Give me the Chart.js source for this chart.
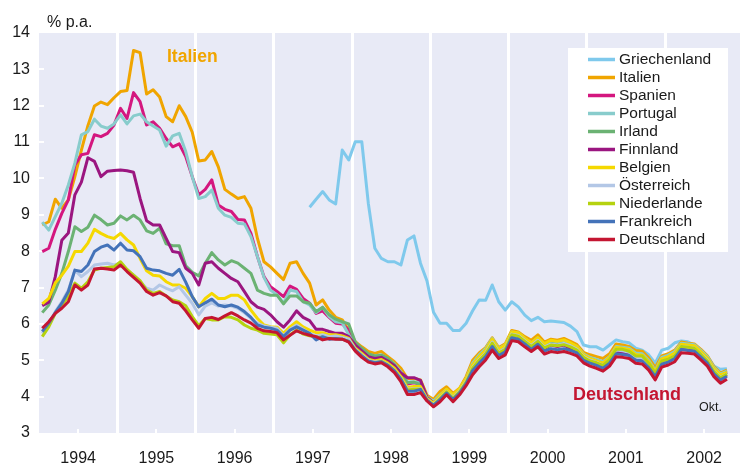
<!DOCTYPE html>
<html>
<head>
<meta charset="utf-8">
<script src="https://cdn.jsdelivr.net/npm/chart.js@4/dist/chart.umd.min.js"></script>
<style>
  html, body { margin: 0; padding: 0; background: #fff; }
</style>
</head>
<body>
<canvas id="yieldChart" width="740" height="466"></canvas>
<script>
// Monthly values, Jan 1994 .. Oct 2002 (106 months), % p.a.
const years = ['1994', '1995', '1996', '1997', '1998', '1999', '2000', '2001', '2002'];
const countries = ['Griechenland', 'Italien', 'Spanien', 'Portugal', 'Irland', 'Finnland',
                   'Belgien', 'Österreich', 'Niederlande', 'Frankreich', 'Deutschland'];
const colors = ['#7fc9ec', '#f0a500', '#d4177f', '#88cccc', '#6bb273', '#9b1680',
                '#f5d800', '#b3c7e6', '#b5d20f', '#4473b9', '#c41632'];

const griechenlandStart = 41; // Jun 1997
const griechenland = [
  9.21, 9.43, 9.64, 9.41, 9.3, 10.78, 10.51, 11.01, 11.01, 9.32,
  8.08, 7.8, 7.71, 7.71, 7.62, 8.31, 8.42, 7.67, 7.18, 6.32,
  6.02, 6.02, 5.82, 5.82, 6.02, 6.36, 6.66, 6.65, 7.07, 6.61,
  6.38, 6.61, 6.47, 6.24, 6.09, 6.18, 6.06, 6.08, 6.06, 6.04,
  5.94, 5.79, 5.42, 5.37, 5.37, 5.28, 5.42, 5.56, 5.51, 5.48,
  5.33, 5.28, 5.15, 4.92, 5.28, 5.33, 5.48, 5.53, 5.51, 5.42,
  5.24, 5.1, 4.84, 4.75, 4.77
];
const italien = [
  8.72, 8.81, 9.43, 9.18, 9.41, 10.05, 10.78, 11.45, 11.99, 12.1,
  12.03, 12.22, 12.39, 12.42, 13.52, 13.46, 12.32, 12.44, 12.24, 11.7,
  11.56, 12.0, 11.7, 11.27, 10.48, 10.51, 10.74, 10.32, 9.7, 9.57,
  9.45, 9.5, 9.18, 8.35, 7.71, 7.57, 7.39, 7.22, 7.67, 7.71,
  7.39, 7.12, 6.52, 6.66, 6.38, 6.18, 6.11, 5.83, 5.51, 5.37,
  5.24, 5.19, 5.24, 5.1, 4.96, 4.78, 4.5, 4.5, 4.46, 4.04,
  3.92, 4.14, 4.27, 4.09, 4.23, 4.55, 5.0, 5.2, 5.35, 5.62,
  5.35, 5.45, 5.82, 5.78, 5.65, 5.55, 5.7, 5.5, 5.58, 5.55,
  5.6, 5.52, 5.43, 5.22, 5.15, 5.1, 5.05, 5.18, 5.45, 5.42,
  5.38, 5.27, 5.25, 5.07, 4.8, 5.12, 5.18, 5.28, 5.5, 5.47,
  5.45, 5.3, 5.12, 4.83, 4.65, 4.73
];
const spanien = [
  7.99, 8.08, 8.6, 9.04, 9.41, 10.37, 10.65, 10.69, 11.2, 11.15,
  11.24, 11.47, 11.93, 11.65, 12.36, 12.11, 11.47, 11.56, 11.38, 11.1,
  10.87, 10.95, 10.6, 10.05, 9.55, 9.7, 9.96, 9.27, 9.15, 9.09,
  8.87, 8.86, 8.49, 7.85, 7.3, 7.02, 6.89, 6.75, 7.04, 6.95,
  6.7, 6.57, 6.29, 6.36, 6.18, 6.02, 6.0, 5.83, 5.47, 5.3,
  5.15, 5.1, 5.12, 5.02, 4.88, 4.65, 4.35, 4.38, 4.35, 3.98,
  3.85, 4.02, 4.18, 4.02, 4.18, 4.48, 4.88, 5.1, 5.28, 5.55,
  5.3, 5.4, 5.75, 5.72, 5.58, 5.45, 5.6, 5.42, 5.5, 5.47,
  5.5, 5.44, 5.36, 5.15, 5.06, 5.0, 4.94, 5.08, 5.35, 5.33,
  5.3, 5.18, 5.16, 4.98, 4.72, 5.06, 5.12, 5.22, 5.45, 5.43,
  5.41, 5.25, 5.08, 4.78, 4.6, 4.68
];
const portugal = [
  8.8, 8.58, 8.95, 9.32, 9.82, 10.42, 11.2, 11.29, 11.63, 11.44,
  11.38, 11.5, 11.75, 11.5, 11.72, 11.77, 11.56, 11.44, 11.33, 10.89,
  11.17, 11.24, 10.74, 10.05, 9.45, 9.5, 9.68, 9.18, 8.99, 8.93,
  8.77, 8.75, 8.4, 7.85, 7.28, 6.93, 6.8, 6.57, 6.93, 6.89,
  6.61, 6.52, 6.31, 6.45, 6.2, 6.06, 6.03, 5.7, 5.42, 5.3,
  5.17, 5.12, 5.15, 5.04, 4.9, 4.68, 4.4, 4.4, 4.38, 4.0,
  3.87, 4.05, 4.2, 4.04, 4.2, 4.5, 4.92, 5.15, 5.32, 5.6,
  5.32, 5.42, 5.78, 5.75, 5.6, 5.48, 5.62, 5.45, 5.52, 5.5,
  5.53, 5.46, 5.38, 5.17, 5.08, 5.02, 4.96, 5.1, 5.38, 5.36,
  5.33, 5.2, 5.18, 5.0, 4.73, 5.08, 5.14, 5.24, 5.47, 5.45,
  5.43, 5.27, 5.1, 4.8, 4.62, 4.7
];
const irland = [
  6.31, 6.52, 6.93, 7.39, 7.99, 8.67, 8.54, 8.66, 8.99, 8.87,
  8.72, 8.77, 8.97, 8.86, 8.99, 8.86, 8.56, 8.49, 8.63, 8.2,
  8.15, 8.15, 7.6, 7.42, 7.32, 7.67, 7.96, 7.76, 7.62, 7.74,
  7.67, 7.53, 7.39, 6.93, 6.84, 6.79, 6.79, 6.55, 6.77, 6.77,
  6.61, 6.57, 6.34, 6.46, 6.25, 6.13, 6.06, 6.0, 5.5, 5.33,
  5.18, 5.12, 5.14, 5.05, 4.88, 4.62, 4.38, 4.4, 4.33, 3.96,
  3.83, 4.0, 4.16, 4.0, 4.16, 4.46, 4.86, 5.1, 5.27, 5.56,
  5.28, 5.38, 5.74, 5.7, 5.56, 5.43, 5.58, 5.4, 5.46, 5.43,
  5.46, 5.4, 5.32, 5.12, 5.04, 4.98, 4.9, 5.05, 5.32, 5.3,
  5.27, 5.14, 5.12, 4.95, 4.68, 5.02, 5.08, 5.18, 5.42, 5.4,
  5.38, 5.22, 5.05, 4.75, 4.57, 4.66
];
const finnland = [
  6.5, 6.6, 7.3, 8.3, 8.5, 9.55, 9.9, 10.57, 10.47, 10.05,
  10.2, 10.22, 10.23, 10.21, 10.17, 9.45, 8.84, 8.72, 8.72, 8.35,
  7.99, 7.96, 7.53, 7.39, 7.07, 7.67, 7.71, 7.53, 7.39, 7.25,
  7.16, 6.89, 6.61, 6.46, 6.4, 6.25, 6.06, 5.91, 6.11, 6.36,
  6.18, 6.09, 5.85, 5.85, 5.79, 5.74, 5.74, 5.65, 5.42, 5.26,
  5.1, 5.05, 5.08, 4.98, 4.85, 4.65, 4.52, 4.52, 4.45, 3.98,
  3.82, 3.98, 4.15, 3.98, 4.14, 4.42, 4.82, 5.04, 5.2, 5.5,
  5.22, 5.33, 5.7, 5.66, 5.5, 5.38, 5.52, 5.32, 5.42, 5.38,
  5.42, 5.32, 5.25, 5.05, 4.95, 4.9, 4.82, 4.98, 5.24, 5.22,
  5.18, 5.05, 5.04, 4.86, 4.6, 4.95, 5.0, 5.1, 5.35, 5.33,
  5.31, 5.15, 4.98, 4.68, 4.5, 4.6
];
const belgien = [
  6.55, 6.7, 7.13, 7.34, 7.59, 7.99, 7.99, 8.22, 8.6, 8.49,
  8.4, 8.35, 8.49, 8.31, 8.17, 7.8, 7.46, 7.34, 7.32, 7.16,
  7.07, 7.07, 6.98, 6.75, 6.47, 6.7, 6.84, 6.7, 6.7, 6.79,
  6.79, 6.66, 6.38, 6.15, 5.97, 5.92, 5.91, 5.74, 5.92, 6.06,
  5.92, 5.83, 5.76, 5.76, 5.7, 5.7, 5.67, 5.6, 5.33, 5.19,
  5.03, 4.98, 5.02, 4.92, 4.78, 4.55, 4.25, 4.28, 4.28, 3.95,
  3.82, 4.02, 4.2, 4.05, 4.22, 4.5, 4.88, 5.1, 5.28, 5.58,
  5.3, 5.42, 5.78, 5.75, 5.6, 5.48, 5.62, 5.45, 5.55, 5.52,
  5.56, 5.48, 5.38, 5.15, 5.05, 4.98, 4.92, 5.08, 5.35, 5.33,
  5.3, 5.16, 5.14, 4.96, 4.7, 5.04, 5.1, 5.2, 5.44, 5.42,
  5.4, 5.24, 5.06, 4.77, 4.6, 4.67
];
const oesterreich = [
  5.74, 5.97, 6.34, 6.61, 6.93, 7.48, 7.3, 7.44, 7.62, 7.65,
  7.67, 7.62, 7.67, 7.48, 7.34, 7.16, 6.98, 6.93, 7.07, 6.98,
  6.91, 7.02, 6.79, 6.57, 6.25, 6.49, 6.58, 6.49, 6.52, 6.49,
  6.43, 6.31, 6.15, 6.02, 5.94, 5.91, 5.88, 5.67, 5.85, 5.97,
  5.85, 5.74, 5.67, 5.7, 5.65, 5.67, 5.63, 5.58, 5.3, 5.15,
  5.0, 4.95, 4.98, 4.88, 4.73, 4.5, 4.2, 4.22, 4.22, 3.92,
  3.78, 3.96, 4.14, 3.98, 4.15, 4.42, 4.8, 5.02, 5.2, 5.5,
  5.22, 5.33, 5.72, 5.68, 5.54, 5.4, 5.55, 5.36, 5.45, 5.42,
  5.46, 5.4, 5.3, 5.1, 5.0, 4.94, 4.86, 5.0, 5.28, 5.26,
  5.22, 5.08, 5.06, 4.88, 4.62, 4.97, 5.02, 5.12, 5.38, 5.36,
  5.33, 5.17, 5.0, 4.7, 4.53, 4.62
];
const niederlande = [
  5.65, 5.92, 6.29, 6.52, 6.75, 7.12, 6.98, 7.16, 7.48, 7.53,
  7.55, 7.57, 7.71, 7.5, 7.34, 7.19, 6.93, 6.84, 6.89, 6.77,
  6.66, 6.61, 6.5, 6.2, 5.95, 6.15, 6.11, 6.11, 6.2, 6.18,
  6.11, 5.97, 5.88, 5.83, 5.74, 5.72, 5.7, 5.48, 5.7, 5.83,
  5.72, 5.67, 5.63, 5.63, 5.6, 5.6, 5.58, 5.52, 5.28, 5.12,
  4.97, 4.93, 4.97, 4.87, 4.72, 4.48, 4.18, 4.2, 4.2, 3.91,
  3.77, 3.95, 4.13, 3.96, 4.13, 4.4, 4.78, 5.0, 5.18, 5.47,
  5.2, 5.3, 5.7, 5.66, 5.52, 5.38, 5.52, 5.34, 5.42, 5.4,
  5.43, 5.37, 5.28, 5.08, 4.98, 4.93, 4.86, 5.02, 5.3, 5.3,
  5.25, 5.12, 5.12, 4.92, 4.65, 4.98, 5.03, 5.12, 5.38, 5.36,
  5.33, 5.16, 4.98, 4.69, 4.52, 4.62
];
const frankreich = [
  5.79, 6.02, 6.31, 6.57, 6.89, 7.48, 7.44, 7.62, 7.99, 8.11,
  8.17, 8.03, 8.22, 8.03, 8.01, 7.85, 7.53, 7.48, 7.46, 7.39,
  7.34, 7.5, 7.15, 6.75, 6.47, 6.58, 6.68, 6.52, 6.47, 6.52,
  6.46, 6.34, 6.18, 5.97, 5.91, 5.88, 5.83, 5.65, 5.83, 5.92,
  5.83, 5.74, 5.56, 5.65, 5.58, 5.6, 5.58, 5.52, 5.28, 5.12,
  4.98, 4.93, 4.96, 4.86, 4.71, 4.48, 4.15, 4.15, 4.2, 3.9,
  3.76, 3.92, 4.1, 3.92, 4.1, 4.36, 4.72, 4.92, 5.1, 5.38,
  5.13, 5.23, 5.62, 5.58, 5.45, 5.3, 5.44, 5.25, 5.32, 5.29,
  5.32, 5.27, 5.2, 5.0, 4.92, 4.86, 4.78, 4.92, 5.18, 5.16,
  5.13, 5.0, 4.98, 4.8, 4.55, 4.89, 4.95, 5.05, 5.3, 5.27,
  5.25, 5.09, 4.92, 4.63, 4.46, 4.56
];
const deutschland = [
  5.88, 6.06, 6.29, 6.43, 6.61, 7.07, 6.93, 7.07, 7.51, 7.53,
  7.51, 7.48, 7.62, 7.44, 7.28, 7.12, 6.89, 6.79, 6.86, 6.77,
  6.61, 6.57, 6.36, 6.11, 5.88, 6.15, 6.18, 6.12, 6.22, 6.31,
  6.22, 6.11, 6.02, 5.88, 5.81, 5.79, 5.76, 5.56, 5.69, 5.81,
  5.74, 5.69, 5.65, 5.56, 5.6, 5.58, 5.58, 5.5, 5.25, 5.08,
  4.95, 4.9, 4.93, 4.82, 4.66, 4.41, 4.06, 4.06, 4.11, 3.88,
  3.72, 3.86, 4.05, 3.86, 4.05, 4.3, 4.6, 4.82, 5.01, 5.28,
  5.05, 5.15, 5.54, 5.51, 5.37, 5.24, 5.37, 5.17, 5.24, 5.21,
  5.24, 5.19, 5.12, 4.93, 4.84, 4.78, 4.7, 4.84, 5.1, 5.08,
  5.05, 4.92, 4.9, 4.73, 4.46, 4.81, 4.87, 4.96, 5.21, 5.19,
  5.17, 5.01, 4.84, 4.55, 4.37, 4.48
];

const series = [griechenland, italien, spanien, portugal, irland, finnland,
                belgien, oesterreich, niederlande, frankreich, deutschland];
const startMonth = [griechenlandStart, 0, 0, 0, 0, 0, 0, 0, 0, 0, 0];

const FONT = "'Liberation Sans', Arial, sans-serif";
const yearTicks = [];
for (let v = 6; v <= 102; v += 6) yearTicks.push(v);

// points sit in the middle of each month
function toPoints(values, start) {
    return values.map((v, i) => ({ x: start + i + 0.5, y: v }));
}

const datasets = series.map((values, k) => ({
    label: countries[k],
    data: toPoints(values, startMonth[k]),
    borderColor: colors[k],
    backgroundColor: colors[k],
    borderWidth: 3,
    pointRadius: 0,
    tension: 0,
    borderJoinStyle: 'round',
    order: series.length - 1 - k   // Deutschland drawn on top
}));

const decor = {
    id: 'decor',
    beforeDraw(chart) {
        const { ctx, chartArea: a } = chart;
        ctx.save();
        ctx.fillStyle = '#e8eaf6';
        ctx.fillRect(a.left, a.top, a.right - a.left, a.bottom - a.top);
        ctx.restore();
    },
    beforeDatasetsDraw(chart) {
        const { ctx, chartArea: a, scales } = chart;
        ctx.save();
        ctx.fillStyle = '#ffffff';
        for (let v = 4; v <= 13; v++) {
            const y = Math.round(scales.y.getPixelForValue(v));
            ctx.fillRect(a.left, y - 1, 5, 2);
        }
        yearTicks.filter(v => v % 12 === 6).forEach(v => {
            const x = Math.round(scales.x.getPixelForValue(v));
            ctx.fillRect(x - 1, a.bottom - 4, 2, 4);
        });
        ctx.restore();
    },
    afterDraw(chart) {
        const ctx = chart.ctx;
        ctx.save();
        // unit
        ctx.fillStyle = '#1a1a1a';
        ctx.font = '16px ' + FONT;
        ctx.textAlign = 'left';
        ctx.textBaseline = 'alphabetic';
        ctx.fillText('% p.a.', 47, 27);

        // legend box
        ctx.fillStyle = '#ffffff';
        ctx.fillRect(568, 48, 160, 204);
        ctx.font = '15.5px ' + FONT;
        ctx.textBaseline = 'middle';
        countries.forEach((name, k) => {
            const y = 59.5 + k * 18;
            ctx.strokeStyle = colors[k];
            ctx.lineWidth = 3.5;
            ctx.beginPath();
            ctx.moveTo(588, y);
            ctx.lineTo(615, y);
            ctx.stroke();
            ctx.fillStyle = '#1a1a1a';
            ctx.fillText(name, 619, y + 0.5);
        });

        // annotations
        ctx.font = 'bold 17.5px ' + FONT;
        ctx.fillStyle = colors[1];
        ctx.fillText('Italien', 167, 57);
        ctx.font = 'bold 18px ' + FONT;
        ctx.fillStyle = colors[10];
        ctx.fillText('Deutschland', 573, 395);
        ctx.font = '12.5px ' + FONT;
        ctx.fillStyle = '#1a1a1a';
        ctx.fillText('Okt.', 699, 408);
        ctx.restore();
    }
};

new Chart(document.getElementById('yieldChart'), {
    type: 'line',
    data: { datasets },
    options: {
        responsive: false,
        animation: false,
        layout: { padding: { top: 33, left: 0, right: 0, bottom: 0 } },
        plugins: { legend: { display: false }, tooltip: { enabled: false } },
        scales: {
            x: {
                type: 'linear',
                min: 0,
                max: 107.5,
                afterBuildTicks: s => { s.ticks = yearTicks.map(v => ({ value: v })); },
                afterFit: s => { s.height = 33; },
                grid: {
                    color: c => (c.tick && c.tick.value % 12 === 0) ? '#ffffff' : 'rgba(0,0,0,0)',
                    lineWidth: 3,
                    drawTicks: false
                },
                border: { display: false },
                ticks: {
                    autoSkip: false,
                    maxRotation: 0,
                    padding: 16,
                    color: '#1a1a1a',
                    font: { family: FONT, size: 16 },
                    callback: v => (v % 12 === 6) ? years[(v - 6) / 12] : ''
                }
            },
            y: {
                min: 3,
                max: 14,
                afterFit: s => { s.width = 39; },
                grid: { display: false, drawTicks: false },
                border: { display: false },
                ticks: {
                    stepSize: 1,
                    padding: 9,
                    color: '#1a1a1a',
                    font: { family: FONT, size: 16 }
                }
            }
        }
    },
    plugins: [decor]
});
</script>
</body>
</html>
